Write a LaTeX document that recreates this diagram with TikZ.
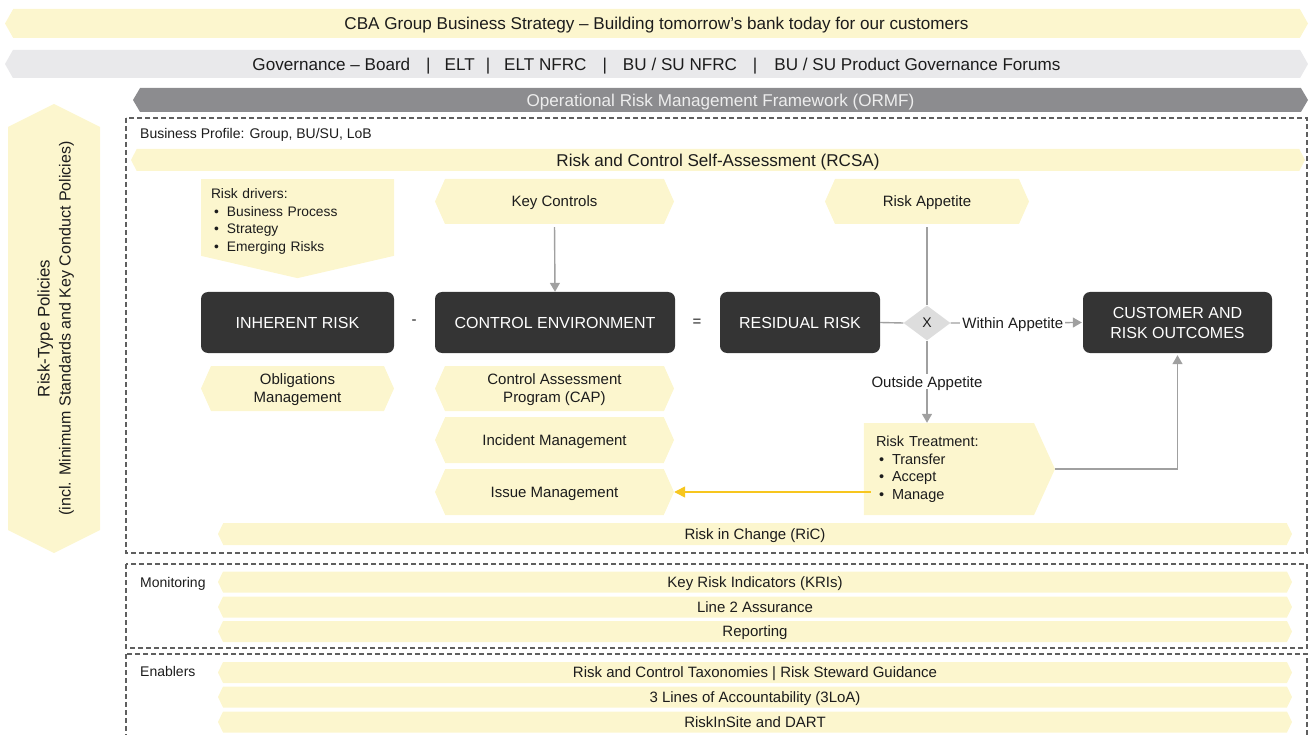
\documentclass[tikz,border=0pt]{standalone}
\usepackage{fontspec}
\setmainfont{Liberation Sans}
\usetikzlibrary{shapes.symbols,shapes.geometric,arrows.meta,calc}
\definecolor{yel}{RGB}{252,246,206}
\definecolor{lgrey}{RGB}{233,233,235}
\definecolor{mgrey}{RGB}{140,140,143}
\definecolor{dbox}{RGB}{52,52,52}
\definecolor{diafill}{RGB}{221,221,221}
\definecolor{arr}{RGB}{160,160,160}
\definecolor{gold}{RGB}{247,198,30}
\definecolor{txt}{RGB}{28,28,28}
\definecolor{dashc}{RGB}{95,95,95}
\begin{document}
\begin{tikzpicture}[x=1pt,y=-1pt,
  every node/.style={text=txt, inner sep=0pt, text depth=0pt, font=\fontsize{15}{18}\selectfont},
  band/.style={signal, signal to=east and west, fill=yel},
  big/.style={font=\fontsize{17.1}{20}\selectfont},
  hexa/.style={signal, signal to=east and west, fill=yel, minimum height=45, signal pointer angle=132, align=center},
  dark/.style={rectangle, rounded corners=7pt, fill=dbox, text=white, minimum height=61, align=center, font=\fontsize{16}{20}\selectfont},
  slim/.style={band, minimum width=1074, minimum height=21, signal pointer angle=129},
  conn/.style={draw=arr, line width=1.4pt},
  tip/.style={-{Triangle[length=9pt,width=10pt]}},
  dashbox/.style={draw=dashc, line width=1.1pt, dash pattern=on 5pt off 3pt},
  lbl/.style={fill=white, inner sep=2pt, font=\fontsize{15}{17}\selectfont},
  listbox/.style={signal, fill=yel, text depth={}, align=left}
]
\useasboundingbox (0,0) rectangle (1309,735);
\clip (0,0) rectangle (1309,735);

% top bands
\node[band, big, minimum width=1303, minimum height=29, signal pointer angle=121] (strategy) at (656.5,23.5) {CBA Group Business Strategy – Building tomorrow’s bank today for our customers};
\node[band, big, fill=lgrey, minimum width=1303, minimum height=28, signal pointer angle=121] (gov) at (656.5,64) {Governance – Board\hspace{16pt}|\hspace{14pt}ELT\hspace{11pt}|\hspace{14pt}ELT NFRC\hspace{16pt}|\hspace{16pt}BU / SU NFRC\hspace{16pt}|\hspace{17pt}BU / SU Product Governance Forums};
\node[band, big, fill=mgrey, text=white!93!black, minimum width=1175, minimum height=24, signal pointer angle=119] (ormf) at (720.5,100) {Operational Risk Management Framework (ORMF)};

% left vertical arrow
\node[band, rotate=90, minimum width=449, minimum height=92, signal pointer angle=127, align=center, font=\fontsize{16}{21}\selectfont] (policies) at (54,328.5) {{\fontsize{16.8}{21}\selectfont Risk-Type Policies}\\(incl. Minimum Standards and Key Conduct Policies)};

% dashed frames
\draw[dashbox] (126,118) rectangle (1307,553);
\draw[dashbox] (126,564) rectangle (1307,648);
\draw[dashbox] (126,654) rectangle (1307,760);

\node[anchor=west, font=\fontsize{14}{17}\selectfont] (profile) at (140,133) {Business Profile: Group, BU/SU, LoB};
\node[band, big, minimum width=1174, minimum height=22, signal pointer angle=125] (rcsa) at (718,160) {Risk and Control Self-Assessment (RCSA)};

% upper row
\node[listbox, signal to=south, signal from=nowhere, minimum width=193, minimum height=99, signal pointer angle=154, text width=173, inner xsep=10pt, font=\fontsize{13.8}{17.5}\selectfont] (drv) at (297.5,217.5) {\rule{0pt}{18pt}Risk drivers:\\ \hspace*{3pt}\makebox[13pt][l]{\textbullet}Business Process\\ \hspace*{3pt}\makebox[13pt][l]{\textbullet}Strategy\\ \hspace*{3pt}\makebox[13pt][l]{\textbullet}Emerging Risks};
\node[hexa, minimum width=239] (kc) at (554.5,201.5) {Key Controls};
\node[hexa, minimum width=204] (ra) at (927,201.5) {Risk Appetite};

% main row
\node[dark, minimum width=193] (inh) at (297.5,322.5) {INHERENT RISK};
\node[dark, minimum width=240] (ce) at (555,322.5) {CONTROL ENVIRONMENT};
\node[dark, minimum width=160] (res) at (800,322.5) {RESIDUAL RISK};
\node[dark, minimum width=189] (cust) at (1177.5,322.5) {CUSTOMER AND\\RISK OUTCOMES};
\node (minus) at (414,322) {-};
\node (equals) at (697,322.5) {=};
\node[diamond, fill=diafill, minimum width=47, minimum height=35, font=\fontsize{14}{17}\selectfont] (dia) at (927,323) {X};

% lower items
\node[hexa, minimum width=193] (obl) at (297.5,388.5) {Obligations\\Management};
\node[hexa, minimum width=239] (cap) at (554.5,388.5) {Control Assessment\\Program (CAP)};
\node[hexa, minimum width=239, minimum height=46] (inc) at (554.5,440) {Incident Management};
\node[hexa, minimum width=239, minimum height=46] (iss) at (554.5,492) {Issue Management};
\node[listbox, signal to=east, minimum width=191, minimum height=92, signal pointer angle=131, text width=146, inner xsep=12pt, font=\fontsize{14.5}{17.5}\selectfont] (rt) at (949,469) {Risk Treatment:\\ \hspace*{3pt}\makebox[13pt][l]{\textbullet}Transfer\\ \hspace*{3pt}\makebox[13pt][l]{\textbullet}Accept\\ \hspace*{3pt}\makebox[13pt][l]{\textbullet}Manage};

\node[slim, minimum height=22] (ric) at (755,534) {Risk in Change (RiC)};

% monitoring
\node[anchor=west, font=\fontsize{14}{17}\selectfont] (mon) at (140,582) {Monitoring};
\node[slim] (kri) at (755,582) {Key Risk Indicators (KRIs)};
\node[slim] (l2a) at (755,607) {Line 2 Assurance};
\node[slim] (rep) at (755,631.5) {Reporting};

% enablers
\node[anchor=west, font=\fontsize{14}{17}\selectfont] (enb) at (140,671) {Enablers};
\node[slim] (tax) at (755,672.5) {Risk and Control Taxonomies | Risk Steward Guidance};
\node[slim] (loa) at (755,697) {3 Lines of Accountability (3LoA)};
\node[slim] (dart) at (755,722) {RiskInSite and DART};

% connectors
\draw[conn, tip, shorten <=3pt] (kc.south) -- (ce.north);
\draw[conn, shorten <=3pt] (ra.south) -- (dia.north);
\draw[conn] (res.east) -- (dia.west);
\draw[conn, tip, shorten >=1pt] (dia.east) -- node[lbl, pos=0.47] {Within Appetite} (cust.west);
\draw[conn, tip] (dia.south) -- node[lbl, pos=0.5] {Outside Appetite} (dia.south |- rt.north);
\draw[conn, tip, shorten >=2pt] (rt.east) -| (cust.south);
\draw[draw=gold, line width=1.4pt, -{Triangle[length=11pt,width=11pt]}] ($(rt.west |- iss.east)+(7,0)$) -- (iss.east);
\end{tikzpicture}
\end{document}
